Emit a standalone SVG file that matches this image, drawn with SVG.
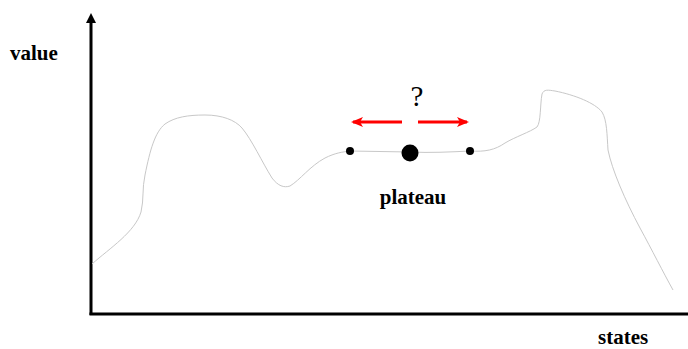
<svg xmlns="http://www.w3.org/2000/svg" width="688" height="349" viewBox="0 0 688 349">
<style>
.lbl{font-family:"Liberation Serif",serif;font-weight:bold;font-size:21px;fill:#000}
.q{font-family:"Liberation Serif",serif;font-size:29px;fill:#000}
.curve{fill:none;stroke:#c8c8c8;stroke-width:1}
.red{stroke:#f00;stroke-width:3;fill:none}
</style>
<defs>
<marker id="ah" markerWidth="10" markerHeight="10" refX="5" refY="5" orient="auto" markerUnits="userSpaceOnUse" viewBox="0 0 10 10">
<path d="M0,0 L10,5 L0,10 Z" fill="#000"/>
</marker>
<marker id="rh" markerWidth="12" markerHeight="10" refX="10" refY="5" orient="auto" markerUnits="userSpaceOnUse" viewBox="0 0 12 10">
<path d="M0,0 L12,5 L0,10 L3,5 Z" fill="#f00"/>
</marker>
</defs>
<g id="axes">
<line x1="91" y1="315" x2="91" y2="18" stroke="#000" stroke-width="3" marker-end="url(#ah)"/>
<line x1="89.5" y1="314" x2="688" y2="314" stroke="#000" stroke-width="3"/>
</g>
<g id="landscape">
<path class="curve" d="M92,264 C110,248 135,232 141,212 C144,200 142,188 145,175 C150,150 155,132 165,124 C175,117 188,115 205,115 C222,115 235,120 242,128 C252,140 262,162 272,178 C278,186 284,188 290,186 C300,180 310,166 325,158 C335,153 342,152 350,151 C370,151 390,152 410,152 C430,153 450,152 470,151 C485,152 495,150 505,143 C515,137 530,132 537,127 C541,122 540,105 542,94 C544,89 548,90 555,91 C575,95 595,103 602,112 C607,120 607,135 608,150 C612,170 625,200 640,228 C652,250 663,272 673,290"/>
</g>
<g id="points">
<circle cx="350" cy="151" r="4" fill="#000"/>
<circle cx="410" cy="153" r="8.5" fill="#000"/>
<circle cx="470" cy="151" r="4" fill="#000"/>
</g>
<g id="connectors">
<line class="red" x1="402" y1="122" x2="353" y2="122" marker-end="url(#rh)"/>
<line class="red" x1="418" y1="122" x2="467" y2="122" marker-end="url(#rh)"/>
</g>
<g id="labels">
<text class="lbl" x="10" y="60">value</text>
<text class="lbl" x="598" y="344">states</text>
<text class="lbl" x="413" y="204" text-anchor="middle">plateau</text>
<text class="q" x="417" y="106" text-anchor="middle">?</text>
</g>
</svg>
